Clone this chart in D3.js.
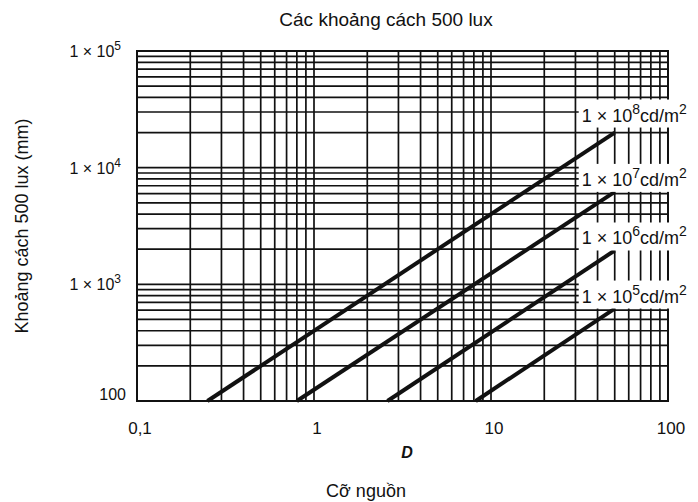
<!DOCTYPE html>
<html>
<head>
<meta charset="utf-8">
<script src="https://cdn.jsdelivr.net/npm/d3@7"></script>
<style>
  body { margin: 0; background: #fff; }
  svg { display: block; font-family: "Liberation Sans", Arial, sans-serif; }
</style>
</head>
<body>
<div id="chart"></div>
<script>
// luminance exponents (cd/m2) and line end points
const exponents = [8, 7, 6, 5];
const startD = [0.25, 0.8, 2.6, 8.2];     // where each line leaves the 100 mm floor
const startY = [100, 100, 100, 100];
const endD = [50, 50, 50, 50];
const endY = [20000, 6200, 1950, 620];

const xTickVals = [0.1, 1, 10, 100];
const xTickLabels = ["0,1", "1", "10", "100"];
const yTickVals = [100, 1000, 10000, 100000];
const yTickExp = [null, 3, 4, 5];

const width = 698, height = 502;
const margin = { top: 51, right: 30, bottom: 101, left: 137 };

const svg = d3.select("#chart").append("svg")
  .attr("width", width)
  .attr("height", height);

const x = d3.scaleLog().domain([0.1, 100]).range([margin.left, width - margin.right]);
const y = d3.scaleLog().domain([100, 100000]).range([height - margin.bottom, margin.top]);

const ink = "#111";

// grid
const grid = svg.append("g").attr("stroke", ink).attr("stroke-width", 1.7);
grid.selectAll("line.v")
  .data(x.ticks())
  .join("line")
  .attr("class", "v")
  .attr("x1", d => x(d)).attr("x2", d => x(d))
  .attr("y1", y.range()[0]).attr("y2", y.range()[1]);
grid.selectAll("line.h")
  .data(y.ticks())
  .join("line")
  .attr("class", "h")
  .attr("y1", d => y(d)).attr("y2", d => y(d))
  .attr("x1", x.range()[0]).attr("x2", x.range()[1]);

svg.append("rect")
  .attr("x", x.range()[0]).attr("y", y.range()[1])
  .attr("width", x.range()[1] - x.range()[0])
  .attr("height", y.range()[0] - y.range()[1])
  .attr("fill", "none").attr("stroke", ink).attr("stroke-width", 2);

// lines
const series = exponents.map((e, i) => ({
  exp: e,
  pts: [[startD[i], startY[i]], [endD[i], endY[i]]]
}));

const line = d3.line().x(d => x(d[0])).y(d => y(d[1]));

svg.append("g").selectAll("path")
  .data(series)
  .join("path")
  .attr("d", d => line(d.pts))
  .attr("fill", "none")
  .attr("stroke", ink)
  .attr("stroke-width", 4);

// line labels with white boxes
const lab = svg.append("g").selectAll("g")
  .data(series)
  .join("g")
  .attr("transform", (d, i) => `translate(${x(d.pts[1][0]) - 33},${y(d.pts[1][1]) - (i === 0 ? 11 : 6)})`);

lab.append("rect")
  .attr("x", -3).attr("y", -22)
  .attr("width", 118).attr("height", 28)
  .attr("fill", "#fff");

const lt = lab.append("text")
  .attr("font-size", 18)
  .attr("fill", ink);
lt.append("tspan").text("1 × 10");
lt.append("tspan").attr("dy", -8).attr("font-size", 14).text(d => d.exp);
lt.append("tspan").attr("dy", 8).text("cd/m");
lt.append("tspan").attr("dy", -8).attr("font-size", 14).text("2");

// x tick labels
svg.append("g").selectAll("text")
  .data(xTickVals)
  .join("text")
  .attr("x", d => x(d) + 3)
  .attr("y", 434)
  .attr("text-anchor", "middle")
  .attr("font-size", 17)
  .attr("fill", ink)
  .text((d, i) => xTickLabels[i]);

// y tick labels
const yt = svg.append("g").selectAll("text")
  .data(yTickVals)
  .join("text")
  .attr("x", (d, i) => yTickExp[i] === null ? 126 : 121)
  .attr("y", (d, i) => y(d) + (yTickExp[i] === null ? -1 : 6))
  .attr("text-anchor", "end")
  .attr("font-size", 16)
  .attr("fill", ink);
yt.each(function (d, i) {
  const t = d3.select(this);
  if (yTickExp[i] === null) {
    t.text(d3.format("d")(d));
  } else {
    t.append("tspan").text("1 × 10");
    t.append("tspan").attr("dy", -7).attr("font-size", 12).text(yTickExp[i]);
  }
});

// titles
svg.append("text")
  .attr("x", 386).attr("y", 26)
  .attr("text-anchor", "middle")
  .attr("font-size", 19)
  .attr("fill", ink)
  .text("Các khoảng cách 500 lux");

svg.append("text")
  .attr("x", 407).attr("y", 458)
  .attr("text-anchor", "middle")
  .attr("font-size", 16)
  .attr("font-weight", "bold")
  .attr("font-style", "italic")
  .attr("fill", ink)
  .text("D");

svg.append("text")
  .attr("x", 366).attr("y", 497)
  .attr("text-anchor", "middle")
  .attr("font-size", 18)
  .attr("fill", ink)
  .text("Cỡ nguồn");

svg.append("text")
  .attr("transform", "translate(28,226) rotate(-90)")
  .attr("text-anchor", "middle")
  .attr("font-size", 18)
  .attr("fill", ink)
  .text("Khoảng cách 500 lux (mm)");
</script>
</body>
</html>
